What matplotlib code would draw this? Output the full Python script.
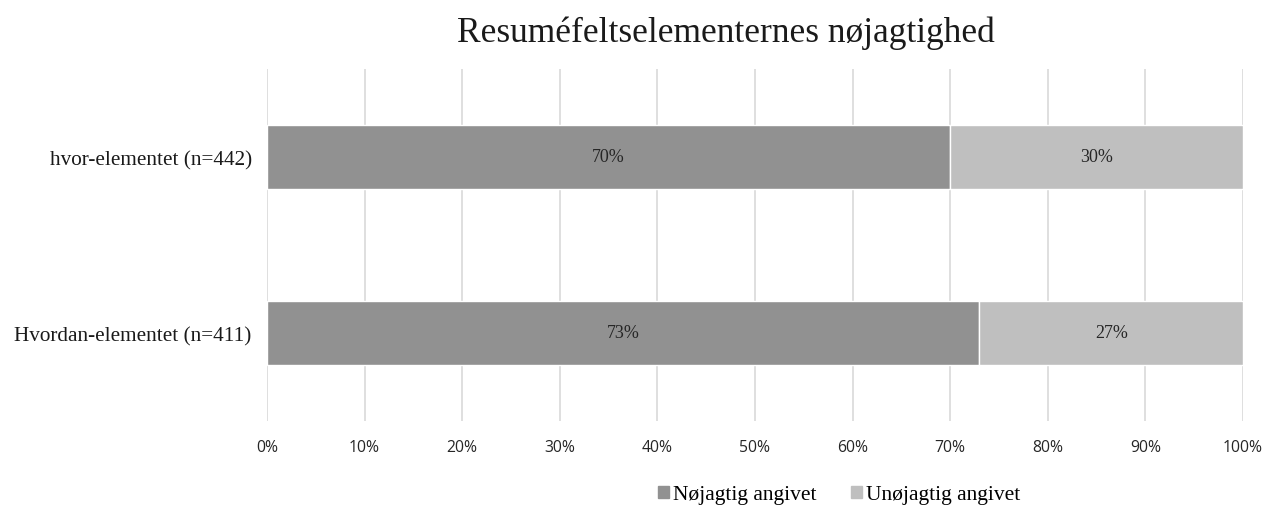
import matplotlib
matplotlib.use("Agg")
import matplotlib.pyplot as plt
from matplotlib.patches import Patch

categories = ["Hvordan-elementet (n=411)", "hvor-elementet (n=442)"]
accurate = [73, 70]
inaccurate = [27, 30]
series_names = ["Nøjagtig angivet", "Unøjagtig angivet"]
xticks = [0, 10, 20, 30, 40, 50, 60, 70, 80, 90, 100]
title = "Resuméfeltselementernes nøjagtighed"

c1 = "#919191"
c2 = "#bfbfbf"
serif = "Liberation Serif"

fig = plt.figure(figsize=(12.73, 5.06), dpi=100)
ax = fig.add_axes([267/1273, 1-422/506, (1243-267)/1273, (422-70)/506])

y = list(range(len(categories)))
h = 0.36
b1 = ax.barh(y, accurate, height=h, color=c1, edgecolor="white", linewidth=1, zorder=3)
b2 = ax.barh(y, inaccurate, left=accurate, height=h, color=c2, edgecolor="white", linewidth=1, zorder=3)

for vals, lefts in [(accurate, [0]*len(accurate)), (inaccurate, accurate)]:
    for yi, v, l in zip(y, vals, lefts):
        ax.text(l + v/2, yi, f"{v}%", ha="center", va="center", fontsize=13,
                family=serif, color="#262626", zorder=4)

ax.set_xlim(0, 100)
ax.set_ylim(-0.5, 1.5)
ax.set_xticks(xticks)
ax.set_xticklabels([f"{t}%" for t in xticks], fontsize=11.3, family="Open Sans", color="#262626")
ax.set_yticks(y)
ax.set_yticklabels(categories, fontsize=15.3, family=serif, color="#1a1a1a")
ax.tick_params(axis="both", length=0)
ax.tick_params(axis="x", pad=13)
ax.tick_params(axis="y", pad=11)
ax.grid(axis="x", color="#d9d9d9", linewidth=1.2, zorder=0)
for s in ax.spines.values():
    s.set_visible(False)

fig.text(726/1273, 1-42/506, title, ha="center", va="baseline", fontsize=25.5, family=serif, color="#1a1a1a")

handles = [Patch(color=c1), Patch(color=c2)]
fig.legend(handles, series_names, loc="center", bbox_to_anchor=(839/1273, 1-496/506), ncol=2,
           frameon=False, prop={"family": serif, "size": 15.5}, handlelength=0.5, handleheight=0.5,
           handletextpad=0.2, columnspacing=1.6, borderpad=0)

fig.savefig("out.png", dpi=100)
